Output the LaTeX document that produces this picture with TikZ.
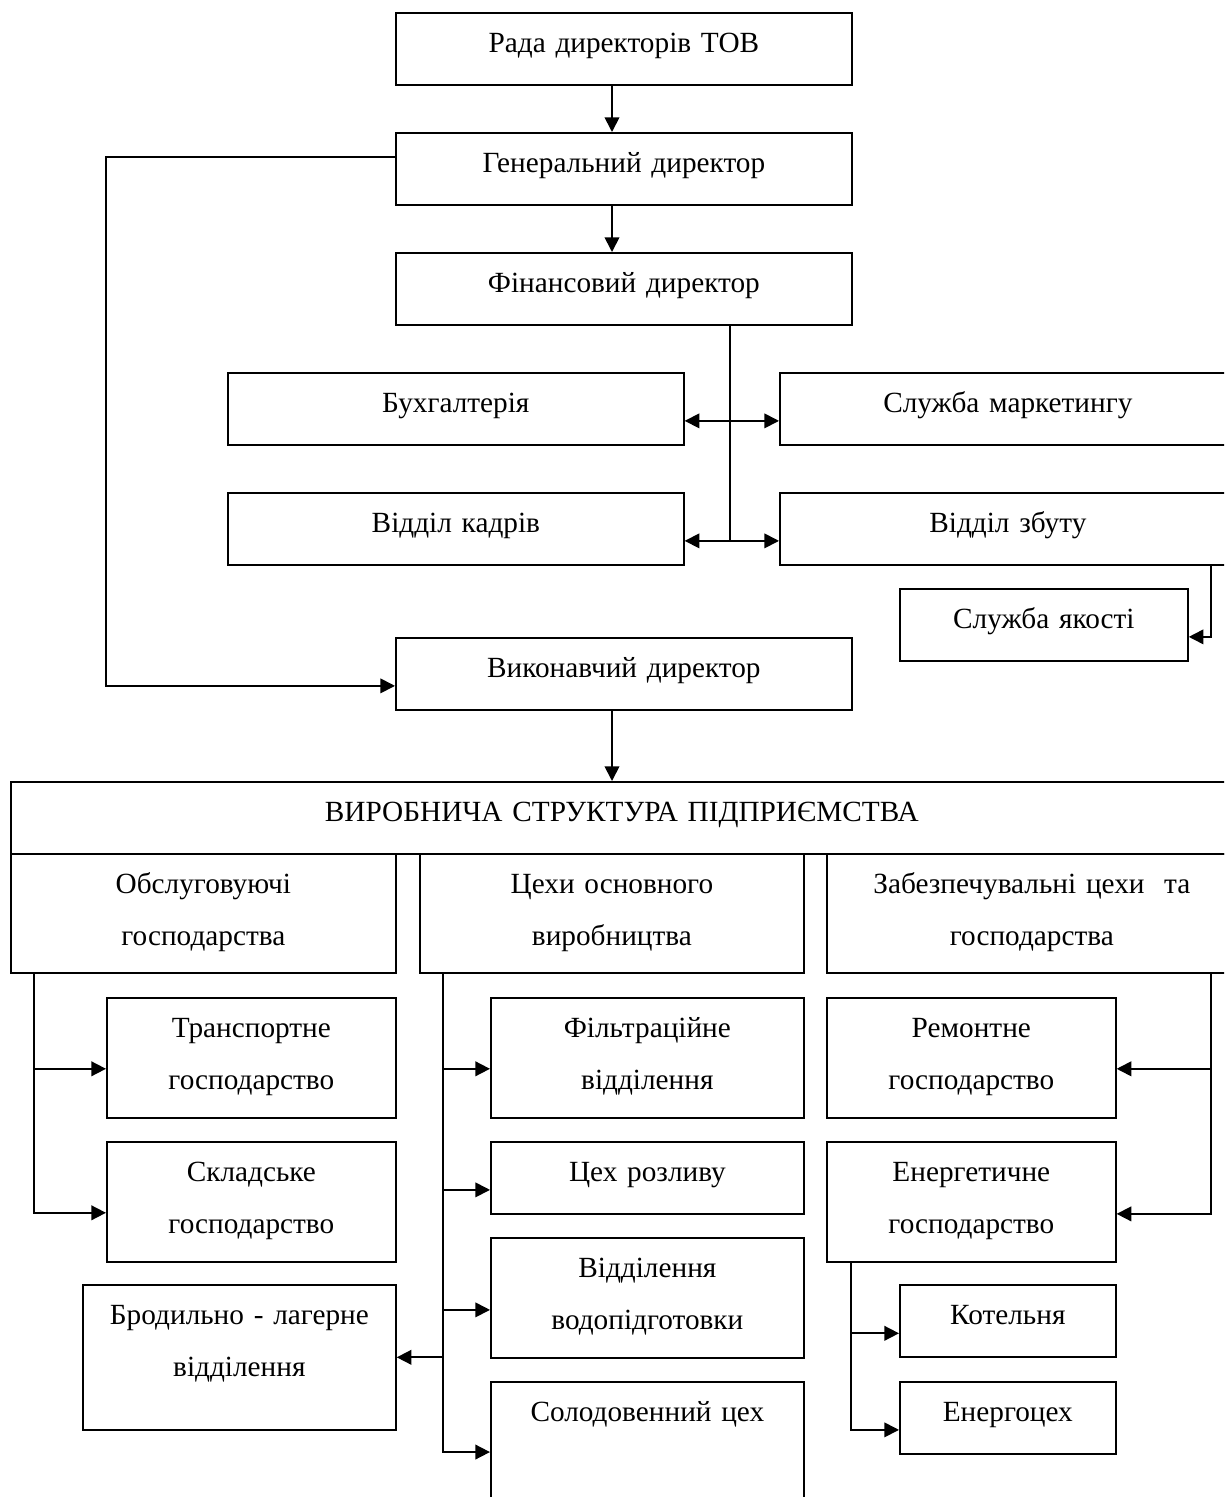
\documentclass[tikz,border=0pt]{standalone}
\usepackage{fontspec}
\setmainfont{Liberation Serif}
\usetikzlibrary{arrows.meta}

\begin{document}
\begin{tikzpicture}[
  x=0.4645pt, y=-0.4645pt,
  box/.style={draw, anchor=north west, inner sep=0pt, align=center, text height=18.6pt, font=\fontsize{13.6pt}{24.15pt}\selectfont},
  wide/.style={box, text width=211.8pt, text depth=14.8pt},
  sub/.style={box, text width=134.2pt, text depth=37.1pt},
  mid/.style={box, text width=145.4pt, text depth=37.1pt},
  small/.style={box, text width=100.3pt, text depth=14.8pt},
  line width=0.8pt, >={Triangle[length=2.4mm,width=2.4mm]}]
  \useasboundingbox (0,0) rectangle (1224,1497);
  \clip (0,0) rectangle (1224,1497);
  \node[wide] (rada) at (395,12) {Рада директорів ТОВ};
  \node[wide] (gen) at (395,132) {Генеральний директор};
  \node[wide] (fin) at (395,252) {Фінансовий директор};
  \node[wide] (buh) at (227,372) {Бухгалтерія};
  \node[wide] (market) at (779,372) {Служба маркетингу};
  \node[wide] (kadry) at (227,492) {Відділ кадрів};
  \node[wide] (zbut) at (779,492) {Відділ збуту};
  \node[box, text width=133.8pt, text depth=14.8pt] (yakist) at (899,588) {Служба якості};
  \node[wide] (vykon) at (395,637) {Виконавчий директор};
  \node[box, text width=567.6pt, text depth=14.8pt] (vyrob) at (10,781) {ВИРОБНИЧА СТРУКТУРА ПІДПРИЄМСТВА};
  \node[box, text width=178.8pt, text depth=36.7pt] (obsl) at (10,853) {Обслуговуючі\\господарства};
  \node[box, text width=178.4pt, text depth=36.7pt] (ceh) at (419,853) {Цехи основного\\виробництва};
  \node[box, text width=190.4pt, text depth=36.7pt] (zabezp) at (826,853) {Забезпечувальні цехи~~та\\господарства};
  \node[sub] (transp) at (106,997) {Транспортне\\господарство};
  \node[sub] (sklad) at (106,1141) {Складське\\господарство};
  \node[box, text width=145.4pt, text depth=48.7pt] (brod) at (82,1284) {Бродильно - лагерне\\відділення};
  \node[mid] (filtr) at (490,997) {Фільтраційне\\відділення};
  \node[box, text width=145.4pt, text depth=14.8pt] (rozl) at (490,1141) {Цех розливу};
  \node[mid] (vodo) at (490,1237) {Відділення\\водопідготовки};
  \node[box, text width=145.4pt, text depth=46.4pt] (solod) at (490,1381) {Солодовенний цех};
  \node[sub] (remont) at (826,997) {Ремонтне\\господарство};
  \node[sub] (energ) at (826,1141) {Енергетичне\\господарство};
  \node[small] (kotel) at (899,1284) {Котельня};
  \node[small] (energoc) at (899,1381) {Енергоцех};
  \coordinate (ax) at (612,0);
  \coordinate (trunk) at (730,540);
  \coordinate (zq) at (1211,564);
  \coordinate (lo) at (34,0);
  \coordinate (lm) at (443,0);
  \coordinate (rz) at (1211,0);
  \coordinate (ez) at (851,0);
  \draw[->] (rada.south -| ax) -- (gen.north -| ax);
  \draw[->] (gen.south -| ax) -- (fin.north -| ax);
  \draw[->] ([yshift=5.6pt]gen.west) -- ++(-289,0) |- ([yshift=-5.6pt]vykon.west);
  \draw (fin.south -| trunk) -- (trunk);
  \draw[<->] ([yshift=-5.6pt]buh.east) -- ([yshift=-5.6pt]market.west);
  \draw[<->] ([yshift=-5.6pt]kadry.east) -- ([yshift=-5.6pt]zbut.west);
  \draw[->] (zq) |- ([yshift=-5.6pt]yakist.east);
  \draw[->] (vykon.south -| ax) -- (vyrob.north -| ax);
  \draw[->] (obsl.south -| lo) |- ([yshift=-5.1pt]transp.west);
  \draw[->] (obsl.south -| lo) |- ([yshift=-5.1pt]sklad.west);
  \draw[->] (ceh.south -| lm) |- ([yshift=-5.1pt]filtr.west);
  \draw[->] (ceh.south -| lm) |- ([yshift=-5.6pt]rozl.west);
  \draw[->] (ceh.south -| lm) |- ([yshift=-5.6pt]vodo.west);
  \draw[->] (ceh.south -| lm) |- (brod.east);
  \draw[->] (ceh.south -| lm) |- ([yshift=-33pt]solod.north west);
  \draw[->] (zabezp.south -| rz) |- ([yshift=-5.1pt]remont.east);
  \draw[->] (zabezp.south -| rz) |- ([yshift=-5.6pt]energ.east);
  \draw[->] (energ.south -| ez) |- ([yshift=-5.8pt]kotel.west);
  \draw[->] (energ.south -| ez) |- ([yshift=-5.6pt]energoc.west);
\end{tikzpicture}
\end{document}
